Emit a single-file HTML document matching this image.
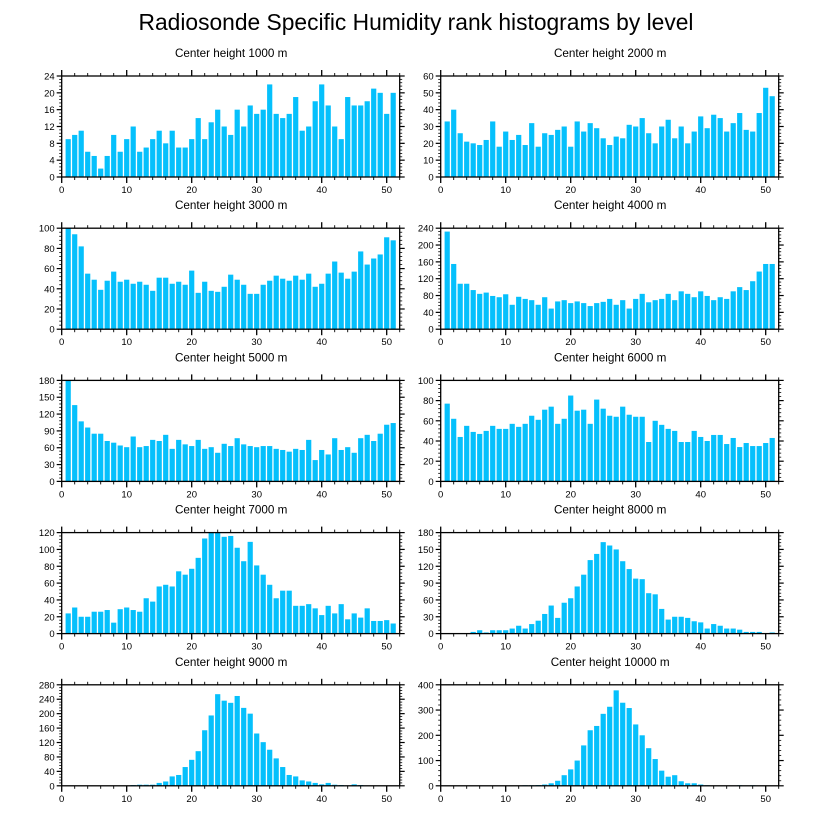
<!DOCTYPE html>
<html><head><meta charset="utf-8"><style>
body{margin:0;background:#fff;}
svg{display:block;font-family:"Liberation Sans",sans-serif;}
</style></head><body>
<svg id="chart" width="818" height="824">
<text x="416" y="30" text-anchor="middle" font-size="22.8">Radiosonde Specific Humidity rank histograms by level</text>
</svg>
<script>
const levels = ["1000","2000","3000","4000","5000","6000","7000","8000","9000","10000"];
const yMax = [24,60,100,240,180,100,120,180,280,400];
const yStep = [4,10,20,40,30,20,20,30,40,100];
const xTicks = [0,10,20,30,40,50];
const h1000 = [9,10,11,6,5,2,5,10,6,9,12,6,7,9,11,8,11,7,7,9,14,9,13,16,12,10,16,12,17,15,16,22,15,14,15,19,11,12,18,22,17,12,9,19,17,17,18,21,20,15,20];
const h2000 = [33,40,26,21,20,19,22,33,18,27,22,25,19,32,18,26,25,28,30,18,33,27,32,29,23,19,24,23,31,30,35,26,20,30,34,23,30,20,27,36,29,37,35,27,32,38,28,27,38,53,48];
const h3000 = [100,94,82,55,49,39,48,57,47,49,45,47,44,38,51,51,45,47,44,58,36,47,38,37,42,54,49,44,35,35,44,48,53,50,48,53,49,55,42,45,55,67,56,50,57,77,64,70,74,91,88];
const h4000 = [232,155,108,108,93,84,87,79,76,83,58,77,72,69,58,76,49,66,69,62,66,62,55,62,65,72,58,69,49,72,84,64,69,72,84,69,90,84,76,90,79,69,76,72,90,100,93,114,137,155,155];
const h5000 = [180,136,107,96,85,85,72,69,64,61,80,61,63,74,72,83,58,74,66,63,74,58,61,51,67,63,77,66,63,61,63,63,58,56,53,58,56,74,38,56,48,77,56,61,51,77,83,72,85,101,104];
const h6000 = [77,62,44,55,49,47,50,55,52,52,57,54,57,65,61,71,74,57,62,85,70,71,57,81,72,65,64,74,66,64,64,39,60,56,52,50,39,39,50,44,40,46,46,37,43,34,38,35,35,38,43];
const h7000 = [24,31,20,20,26,26,28,13,29,31,28,26,42,38,56,58,56,74,70,77,90,113,120,120,115,116,102,86,109,81,70,58,42,51,51,33,33,35,30,22,33,24,35,17,24,19,30,15,15,16,12];
const h8000 = [0,0,0,0,3,6,2,6,6,6,9,14,9,17,23,35,50,28,55,63,84,105,131,142,163,157,150,129,115,98,97,72,70,44,25,30,30,28,22,20,9,17,14,9,9,7,3,3,3,0,2];
const h9000 = [0,0,0,0,0,0,0,0,0,0,2,3,3,3,8,12,26,30,52,72,96,154,195,254,236,230,249,216,200,145,121,100,76,52,30,26,15,12,8,4,8,3,2,1,4,2,0,0,0,0,0];
const h10000 = [0,0,0,0,0,0,0,0,0,0,0,0,2,2,3,5,10,20,42,65,100,160,220,237,285,313,378,329,308,243,200,149,106,60,36,42,18,10,10,5,2,0,0,0,0,2,0,2,0,0,0];
const series = [h1000,h2000,h3000,h4000,h5000,h6000,h7000,h8000,h9000,h10000];

const NS="http://www.w3.org/2000/svg";
const svg=document.getElementById('chart');
function mk(tag,attrs,parent){const e=document.createElementNS(NS,tag);for(const k in attrs)e.setAttribute(k,attrs[k]);parent.appendChild(e);return e;}
const XMAX=52, PW=338, PH=101;
for(let p=0;p<10;p++){
  const col=p%2,row=Math.floor(p/2);
  const left=col?440.7:61.7, top=76+row*152.2;
  const g=mk('g',{},svg);
  
  
  const xs=v=>left+v/XMAX*PW;
  const ys=v=>top+PH-v/yMax[p]*PH;
  const t=mk('text',{x:left+PW/2+0.5,y:top-19,'text-anchor':'middle','font-size':'11.7'},g);
  t.textContent='Center height '+levels[p]+' m';
  
  
  const vals=series[p];
  for(let i=0;i<vals.length;i++){
    if(vals[i]<=0)continue;
    const b=mk('rect',{x:xs(i+1)-2.6,y:ys(vals[i]),width:5.2,height:ys(0)-ys(vals[i]),fill:'#05c0fc'},g);
    
    
  }
  const fr=mk('rect',{x:left,y:top,width:PW,height:PH,fill:'none',stroke:'#000','stroke-width':1.3},g);
  
  
  for(let v=0;v<=XMAX;v+=2){
    const major=v%10===0, L=major?6:3, x=xs(v);
    mk('line',{x1:x,x2:x,y1:top,y2:top-L,stroke:'#000','stroke-width':major?1.3:0.9},g);
    mk('line',{x1:x,x2:x,y1:top+PH,y2:top+PH+L,stroke:'#000','stroke-width':major?1.3:0.9},g);
  }
  for(const v of xTicks){
    const tl=mk('text',{x:xs(v),y:top+PH+16,'text-anchor':'middle','font-size':'9.5'},g);
    tl.textContent=v;
    
    
  }
  const minor=yStep[p]/5;
  for(let k=0;k*minor<=yMax[p]+1e-9;k++){
    const v=k*minor, major=k%5===0, L=major?5:2.5, y=ys(v);
    mk('line',{x1:left,x2:left-L,y1:y,y2:y,stroke:'#000','stroke-width':major?1.2:0.8},g);
    mk('line',{x1:left+PW,x2:left+PW+L,y1:y,y2:y,stroke:'#000','stroke-width':major?1.2:0.8},g);
    if(major){
      const yl=mk('text',{x:left-7,y:y+3.5,'text-anchor':'end','font-size':'9.5'},g);
      yl.textContent=Math.round(v);
      
      
    }
  }
}
</script>
</body></html>
